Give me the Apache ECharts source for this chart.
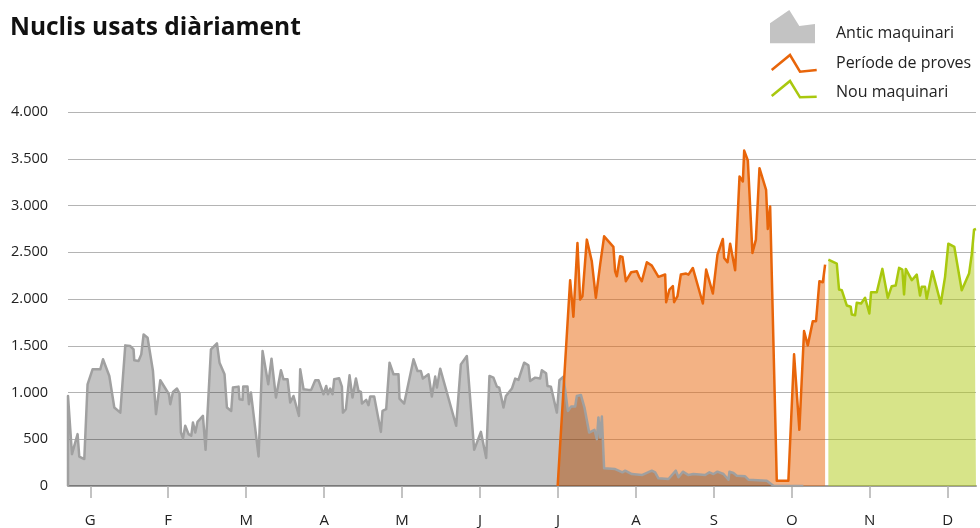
<!DOCTYPE html>
<html>
<head>
<meta charset="utf-8">
<script src="https://cdn.jsdelivr.net/npm/echarts@6/dist/echarts.min.js"></script>
<style>
  html, body { margin: 0; padding: 0; background: #ffffff; }
  #chart { width: 980px; height: 528px; }
</style>
</head>
<body>
<div id="chart"></div>
<script>
// Month tick labels (x = month index, 0 = January)
var monthLabels = ['G', 'F', 'M', 'A', 'M', 'J', 'J', 'A', 'S', 'O', 'N', 'D'];
var monthTicks = [0, 1, 2, 3, 4, 5, 6, 7, 8, 9, 10, 11];
var yTicks = [0, 500, 1000, 1500, 2000, 2500, 3000, 3500, 4000];

// "Antic maquinari" : [month position, cores]
var antic = [
  [-0.286, 0], [-0.286, 963], [-0.235, 341], [-0.163, 555], [-0.141, 313], [-0.077, 288], [-0.035, 1088],
  [0.029, 1248], [0.128, 1248], [0.163, 1355], [0.244, 1177], [0.308, 839], [0.385, 785],
  [0.449, 1504], [0.513, 1497], [0.555, 1461], [0.564, 1344], [0.619, 1337], [0.654, 1408],
  [0.684, 1621], [0.735, 1586], [0.804, 1230], [0.843, 768], [0.898, 1131], [1.009, 981],
  [1.026, 875], [1.061, 1006], [1.112, 1042], [1.145, 989], [1.163, 572], [1.189, 509],
  [1.218, 644], [1.261, 555], [1.295, 537], [1.317, 679], [1.347, 572], [1.376, 686],
  [1.445, 750], [1.479, 387], [1.548, 1461], [1.625, 1525], [1.658, 1319], [1.722, 1195],
  [1.753, 839], [1.808, 803], [1.830, 1053], [1.902, 1063], [1.915, 928], [1.953, 921],
  [1.962, 1063], [2.017, 1063], [2.035, 875], [2.061, 999], [2.159, 316], [2.210, 1443],
  [2.283, 1088], [2.325, 1362], [2.382, 946], [2.446, 1237], [2.479, 1141], [2.531, 1141],
  [2.565, 893], [2.607, 963], [2.677, 750], [2.693, 1248], [2.736, 1035], [2.800, 1028],
  [2.834, 1028], [2.886, 1131], [2.928, 1131], [2.992, 981], [3.027, 1070], [3.049, 981],
  [3.078, 1042], [3.108, 981], [3.129, 1141], [3.193, 1152], [3.228, 1063], [3.241, 785],
  [3.279, 821], [3.326, 1184], [3.364, 946], [3.408, 1149], [3.441, 1017], [3.472, 1006],
  [3.485, 882], [3.540, 921], [3.569, 864], [3.591, 957], [3.642, 957], [3.728, 579],
  [3.749, 803], [3.796, 821], [3.839, 1319], [3.890, 1195], [3.954, 1195], [3.967, 935],
  [4.027, 882], [4.147, 1355], [4.198, 1230], [4.241, 1230], [4.267, 1149], [4.339, 1195],
  [4.382, 957], [4.425, 1170], [4.447, 1053], [4.489, 1255], [4.694, 644], [4.754, 1301],
  [4.831, 1390], [4.925, 387], [5.011, 579], [5.079, 299], [5.121, 1177], [5.172, 1159],
  [5.216, 1063], [5.246, 1053], [5.301, 839], [5.332, 963], [5.409, 1042], [5.451, 1149],
  [5.493, 1134], [5.566, 1319], [5.621, 1291], [5.643, 1123], [5.707, 1159], [5.771, 1149],
  [5.793, 1237], [5.848, 1205], [5.865, 1070], [5.909, 1063], [5.986, 785], [6.019, 1131],
  [6.070, 1170], [6.127, 803], [6.169, 850], [6.221, 850], [6.242, 963], [6.294, 974],
  [6.340, 839], [6.400, 572], [6.468, 601], [6.499, 501], [6.519, 733], [6.541, 519],
  [6.563, 743], [6.592, 189], [6.733, 181], [6.827, 146], [6.862, 164], [6.948, 128],
  [7.076, 117], [7.204, 164], [7.247, 146], [7.289, 82], [7.418, 75], [7.512, 164],
  [7.546, 93], [7.602, 153], [7.674, 117], [7.738, 128], [7.888, 117], [7.943, 146],
  [7.995, 128], [8.046, 153], [8.123, 128], [8.187, 67], [8.200, 153], [8.251, 139],
  [8.294, 110], [8.401, 103], [8.443, 67], [8.679, 57], [8.764, 4], [9.148, 0]
];

// "Període de proves"
var proves = [
  [5.996, 0], [6.156, 2201], [6.198, 1810], [6.250, 2599], [6.284, 1995], [6.314, 2030],
  [6.370, 2635], [6.434, 2403], [6.486, 2013], [6.541, 2368], [6.592, 2670], [6.711, 2557],
  [6.733, 2297], [6.755, 2243], [6.797, 2457], [6.827, 2450], [6.871, 2190], [6.939, 2286],
  [7.012, 2297], [7.041, 2237], [7.076, 2190], [7.140, 2393], [7.204, 2357], [7.289, 2237],
  [7.375, 2262], [7.388, 1966], [7.430, 2101], [7.474, 2137], [7.490, 1966], [7.533, 2030],
  [7.576, 2261], [7.644, 2272], [7.674, 2261], [7.730, 2332], [7.859, 1952], [7.901, 2315],
  [7.987, 2059], [8.046, 2475], [8.115, 2642], [8.132, 2439], [8.175, 2393], [8.209, 2592],
  [8.273, 2307], [8.329, 3310], [8.372, 3257], [8.389, 3587], [8.436, 3481], [8.495, 2493],
  [8.539, 2635], [8.585, 3399], [8.670, 3168], [8.692, 2749], [8.722, 2990], [8.807, 57],
  [8.956, 57], [9.029, 1408], [9.097, 601], [9.157, 1657], [9.205, 1504], [9.269, 1763],
  [9.311, 1763], [9.354, 2190], [9.398, 2179], [9.427, 2368]
];

// "Nou maquinari"
var nou = [
  [9.469, 2421], [9.577, 2379], [9.606, 2101], [9.641, 2094], [9.705, 1931], [9.756, 1917],
  [9.769, 1835], [9.812, 1827], [9.833, 1959], [9.889, 1952], [9.940, 2013], [9.995, 1845],
  [10.017, 2073], [10.090, 2073], [10.162, 2322], [10.231, 2013], [10.282, 2137], [10.333, 2144],
  [10.376, 2333], [10.418, 2315], [10.440, 2048], [10.462, 2322], [10.539, 2201], [10.603, 2261],
  [10.645, 2037], [10.667, 2130], [10.709, 2130], [10.731, 2002], [10.803, 2297], [10.859, 2119],
  [10.911, 1952], [10.966, 2237], [10.988, 2243], [11.008, 2592], [11.085, 2557], [11.180, 2094],
  [11.274, 2272], [11.308, 2475], [11.338, 2741], [11.363, 2749]
];

var seriesNames = ['Antic maquinari', 'Període de proves', 'Nou maquinari'];
var titleText = 'Nuclis usats diàriament';

function fmtThousands(v) {
  if (v >= 1000) {
    var r = String(v % 1000);
    while (r.length < 3) r = '0' + r;
    return Math.floor(v / 1000) + '.' + r;
  }
  return String(v);
}

var FONT = 'Open Sans';
var chart = echarts.init(document.getElementById('chart'), null, { renderer: 'canvas' });

chart.setOption({
  animation: false,
  backgroundColor: '#ffffff',
  title: {
    text: titleText,
    left: 10,
    top: 16,
    padding: 0,
    textStyle: { fontFamily: FONT, fontSize: 24.5, fontWeight: 'bold', color: '#111111' }
  },
  grid: { left: 68, right: 4, top: 112, bottom: 41 },
  xAxis: {
    type: 'value',
    min: -0.286,
    max: 11.363,
    splitLine: { show: false },
    axisLine: { show: true, onZero: false, lineStyle: { color: '#9f9f9f', width: 2 } },
    axisTick: { show: true, customValues: monthTicks, length: 12, lineStyle: { color: '#b0b0b0', width: 1.5 } },
    axisLabel: {
      customValues: monthTicks,
      margin: 27,
      fontFamily: FONT,
      fontSize: 15,
      color: '#222222',
      formatter: function (v) { return monthLabels[Math.round(v)]; }
    }
  },
  yAxis: {
    type: 'value',
    min: 0,
    max: 4000,
    interval: 500,
    axisLine: { show: false },
    axisTick: { show: false },
    splitLine: { show: true, lineStyle: { color: '#b4b4b4', width: 1 } },
    axisLabel: {
      margin: 20,
      fontFamily: FONT,
      fontSize: 14.5,
      color: '#222222',
      formatter: function (v) { return fmtThousands(v); }
    }
  },
  series: [
    {
      name: seriesNames[1] + ' (àrea)',
      type: 'line',
      data: proves,
      showSymbol: false,
      symbol: 'none',
      lineStyle: { width: 0, opacity: 0 },
      areaStyle: { color: 'rgba(232,101,10,0.5)', opacity: 1 },
      z: 2
    },
    {
      name: seriesNames[0],
      type: 'line',
      data: antic,
      showSymbol: false,
      symbol: 'none',
      lineStyle: { color: '#a0a0a0', width: 2.5, join: 'round' },
      areaStyle: { color: 'rgba(0,0,0,0.235)', opacity: 1 },
      z: 3
    },
    {
      name: seriesNames[1],
      type: 'line',
      data: proves,
      showSymbol: false,
      symbol: 'none',
      lineStyle: { color: '#e8650a', width: 2.5, join: 'round' },
      z: 4
    },
    {
      name: seriesNames[2],
      type: 'line',
      data: nou,
      showSymbol: false,
      symbol: 'none',
      lineStyle: { color: '#a9c80e', width: 2.5, join: 'round' },
      areaStyle: { color: 'rgba(175,202,20,0.5)', opacity: 1 },
      z: 4
    }
  ],
  graphic: [
    { type: 'polygon', shape: { points: [[770, 23.3], [789.3, 10], [799.3, 26], [815, 24], [815, 43.3], [770, 43.3]] },
      style: { fill: '#c3c3c3' } },
    { type: 'polyline', shape: { points: [[771.7, 70], [790, 55], [800, 71.7], [816.7, 70]] },
      style: { stroke: '#e8650a', lineWidth: 2.5, fill: null } },
    { type: 'polyline', shape: { points: [[771.7, 96], [790, 81], [800, 97.3], [816.7, 96.7]] },
      style: { stroke: '#a9c80e', lineWidth: 2.5, fill: null } },
    { type: 'text', left: 836, top: 25, style: { text: seriesNames[0], fontFamily: FONT, fontSize: 16, fill: '#222222' } },
    { type: 'text', left: 836, top: 55, style: { text: seriesNames[1], fontFamily: FONT, fontSize: 16, fill: '#222222' } },
    { type: 'text', left: 836, top: 84, style: { text: seriesNames[2], fontFamily: FONT, fontSize: 16, fill: '#222222' } }
  ]
});
</script>
</body>
</html>
